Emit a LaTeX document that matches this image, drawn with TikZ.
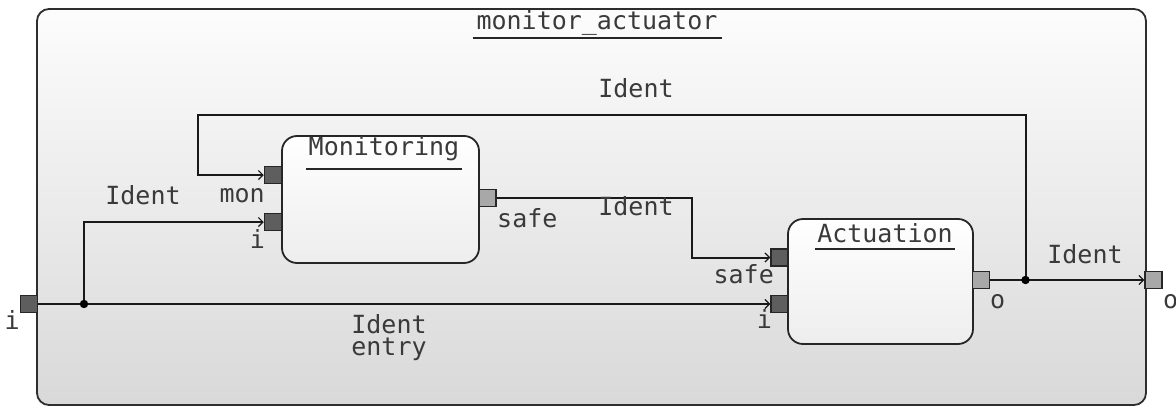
\documentclass[tikz,border=0pt]{standalone}
\usepackage{fontspec}
\setmonofont{DejaVu Sans Mono}
\usetikzlibrary{arrows.meta}

\definecolor{txtgray}{HTML}{3A3A3A}
\definecolor{edgegray}{HTML}{2E2E2E}
\definecolor{inport}{HTML}{5E5E5E}
\definecolor{outport}{HTML}{A8A8A8}

\begin{document}
\begin{tikzpicture}[x=1pt,y=-1pt,
  lbl/.style={font=\ttfamily\fontsize{25}{20}\selectfont, text=txtgray, inner sep=0pt, anchor=base},
  container/.style={draw=edgegray, line width=1.8pt, rounded corners=12pt,
    minimum width=1109pt, minimum height=396pt, inner sep=0pt,
    top color=white!99!black, middle color=black!8, bottom color=black!15},
  block/.style={draw=black!85, line width=1.8pt, rounded corners=15pt, inner sep=0pt,
    top color=white, bottom color=black!7},
  portbox/.style={draw=black!85, line width=1.5pt, minimum width=17pt, minimum height=17pt, inner sep=0pt},
  inbox/.style={portbox, fill=inport},
  outbox/.style={portbox, fill=outport},
  wire/.style={draw=black!90, line width=2pt},
  inwire/.style={wire, -{Straight Barb[length=4.5pt,width=9pt,line width=1.2pt]}},
  heading/.style={draw=black!85, line width=2pt},
  dot/.style={fill=black}
]
\useasboundingbox (0,0) rectangle (1176,407);

% enclosing composite
\node[container] (frame) at (591.5,207) {};
\node[lbl] (frametitle) at (597,29) {monitor\_actuator};
\draw[heading] (473,38) -- (722,38);

% sub-blocks
\node[block, minimum width=197pt, minimum height=127pt] (mon) at (380.5,199.5) {};
\node[lbl] (montitle) at (384,155) {Monitoring};
\draw[heading] (306,169) -- (462,169);

\node[block, minimum width=185pt, minimum height=125pt] (act) at (880.5,281.5) {};
\node[lbl] (acttitle) at (885,242) {Actuation};
\draw[heading] (815,249) -- (955,249);

% ports
\node[inbox]  (pi)    at (29,304)   {};
\node[outbox] (po)    at (1153.5,280) {};
\node[inbox]  (mmon)  at (273,175)  {};
\node[inbox]  (mi)    at (273,222)  {};
\node[outbox] (msafe) at (487.5,198) {};
\node[inbox]  (asafe) at (779.5,257.5) {};
\node[inbox]  (ai)    at (779.5,304) {};
\node[outbox] (ao)    at (981,280)  {};

% junction points and bends
\coordinate (j1) at (84,304);
\coordinate (j2) at (1025.5,280);
\coordinate (loopL) at (198,115);
\coordinate (bend) at (692,198);

% wires
\draw[inwire] (pi.east) -- (ai.west);
\draw[inwire] (j1) |- (mi.west);
\draw[inwire] (msafe.east) -| (bend) |- (asafe.west);
\draw[inwire] (ao.east) -- (po.west);
\draw[inwire] (j2) |- (loopL) |- (mmon.west);
\fill[dot] (j1) circle (4.2);
\fill[dot] (j2) circle (4.2);

% port names
\node[lbl, anchor=base east] (lpi)    at (20,329)  {i};
\node[lbl, anchor=base west] (lpo)    at (1163,308) {o};
\node[lbl, anchor=base east] (lmmon)  at (265,202) {mon};
\node[lbl, anchor=base east] (lmi)    at (265,248) {i};
\node[lbl, anchor=base west] (lmsafe) at (497,227) {safe};
\node[lbl, anchor=base east] (lasafe) at (774,283) {safe};
\node[lbl, anchor=base east] (lai)    at (772,328) {i};
\node[lbl, anchor=base west] (lao)    at (990,308) {o};

% connector labels
\node[lbl] (w1) at (143,204) {Ident};
\node[lbl] (w2) at (636,97)  {Ident};
\node[lbl] (w3) at (636,215) {Ident};
\node[lbl] (w4) at (1085,263) {Ident};
\node[lbl, align=center, anchor=north, font=\ttfamily\fontsize{25}{22.5}\selectfont] (w5) at (389,314) {Ident\\entry};
\end{tikzpicture}
\end{document}
